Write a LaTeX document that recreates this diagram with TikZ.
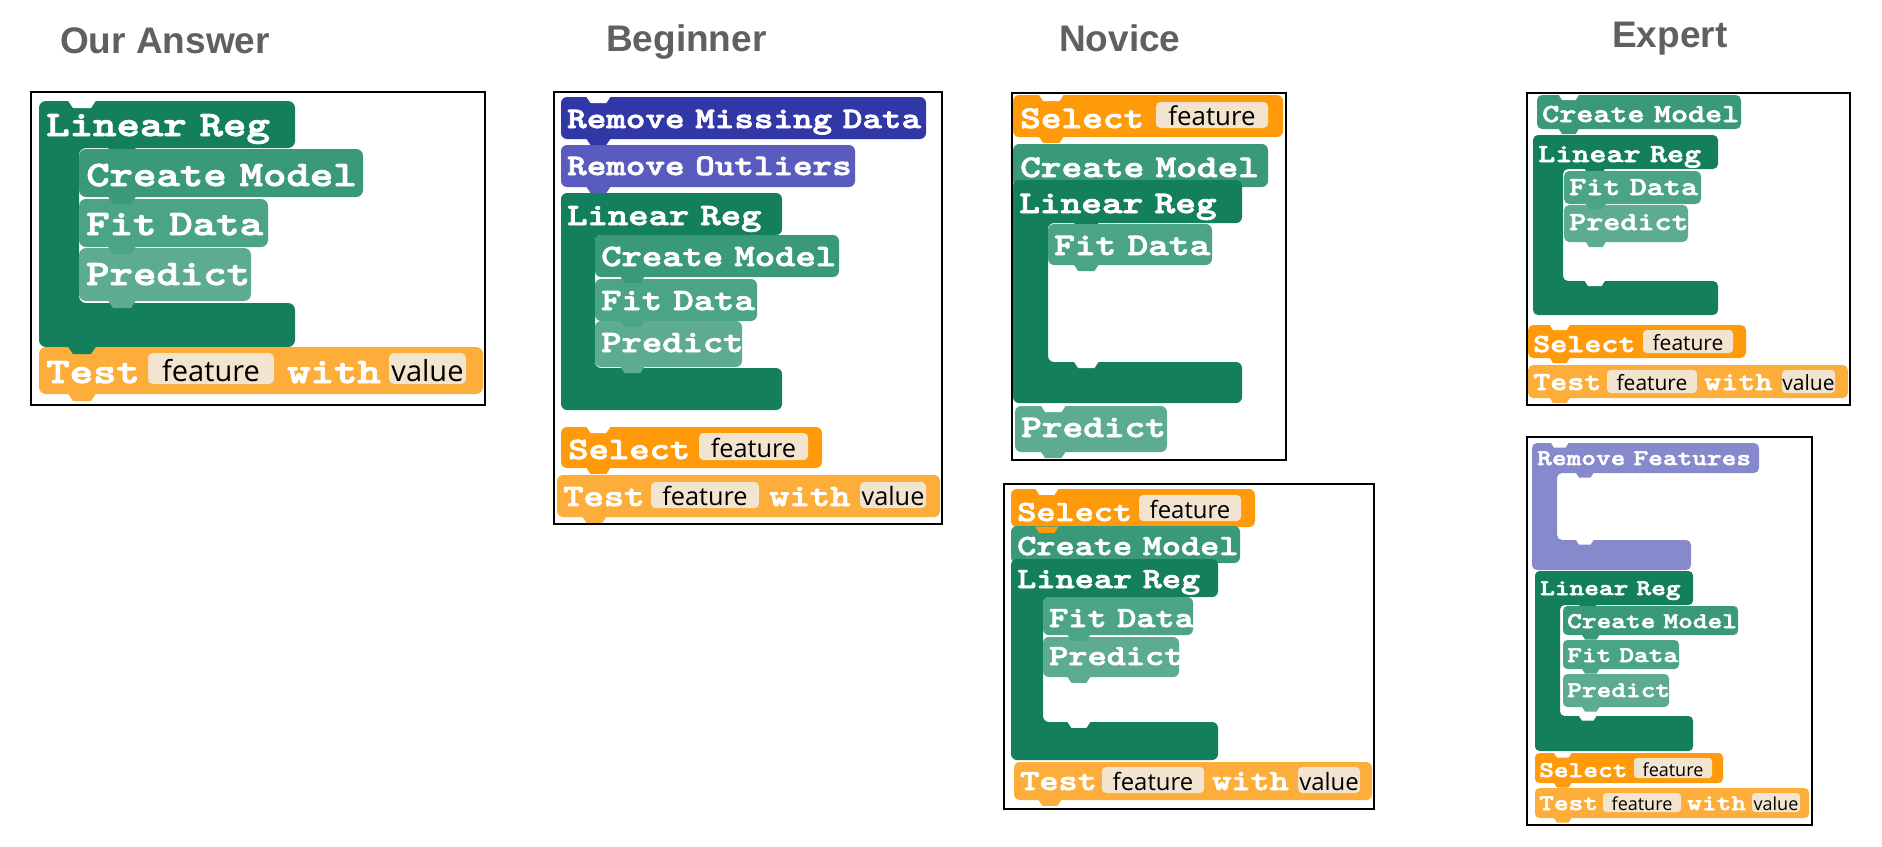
\documentclass[tikz,border=0pt]{standalone}
\usepackage{fontspec}
\newfontfamily\blkfont{lmmonolt10-bold.otf}[FakeStretch=1.25,FakeBold=2.5]
\newfontfamily\slotfont{Open Sans}
\newfontfamily\titlefont{Liberation Sans}
\definecolor{clr}{RGB}{19,127,93}
\definecolor{ccm}{RGB}{58,153,121}
\definecolor{cfd}{RGB}{75,164,135}
\definecolor{cpr}{RGB}{93,172,146}
\definecolor{ctst}{RGB}{252,173,58}
\definecolor{csel}{RGB}{255,155,10}
\definecolor{cslot}{RGB}{243,228,208}
\definecolor{crmd}{RGB}{50,55,168}
\definecolor{cro}{RGB}{89,92,190}
\definecolor{crf}{RGB}{135,137,205}
\definecolor{ctitle}{RGB}{96,96,96}
\tikzset{
  btext/.style={font=\blkfont\fontsize{#1}{#1}\selectfont, text=white, inner sep=0pt, anchor=base west},
  stext/.style={font=\slotfont\fontsize{#1}{#1}\selectfont, text=black, inner sep=0pt, anchor=base},
  ttext/.style={font=\titlefont\bfseries\fontsize{37}{37}\selectfont, text=ctitle, inner sep=0pt, anchor=base west},
  frame/.style={draw=black, line width=2pt},
}
\newcommand\wg{\hspace{0.36em}}
% plain block: x1 y1 x2 y2 color u
\newcommand\blk[6]{\fill[#5, rounded corners={7*#6}] (#1,#2) rectangle (#3,#4);}
% C block: style x1 y1 xh yh xi yb xb y2
\newcommand\cblk[9]{\fill[#1] ({#2+20},#3) -- (#4,#3) -- (#4,#5) -- (#6,#5) -- (#6,#7) -- (#8,#7) -- (#8,#9) -- (#2,#9) -- (#2,#3) -- cycle;}
% tab / notch: x y u color
\newcommand\tabsh[4]{\fill[#4] ({#1+29*#3},{#2-0.5}) -- ({#1+34*#3},{#2+7*#3}) -- ({#1+52*#3},{#2+7*#3}) -- ({#1+57*#3},{#2-0.5}) -- cycle;}
% slot: x1 y1 x2 y2 text fontsize u
\newcommand\slotbox[7]{\fill[cslot, rounded corners={5*#7}] (#1,#2) rectangle (#3,#4); \node[stext=#6] at ({(#1+#3)/2},{#4-3*#7}) {#5};}
\begin{document}
\begin{tikzpicture}[x=1pt,y=-1pt]
\useasboundingbox (0,0) rectangle (1882,846);
\fill[white] (0,0) rectangle (1882,846);

% ---------- titles ----------
\node[ttext] (t1) at (60,53) {Our Answer};
\node[ttext] (t2) at (606,51) {Beginner};
\node[ttext] (t3) at (1059,51) {Novice};
\node[ttext] (t4) at (1612,47) {Expert};

% ---------- panel 1: Our Answer ----------
\cblk{clr,rounded corners=7}{39}{101}{295}{148}{79}{303}{295}{347}
\tabsh{79}{148}{1}{clr}
\blk{79}{149}{363}{197}{ccm}{1}
\blk{79}{199}{268}{247}{cfd}{1}
\blk{79}{248}{251}{301}{cpr}{1}
\blk{39}{347}{483}{394}{ctst}{1}
\tabsh{39}{101}{1}{white}
\tabsh{79}{197}{1}{ccm}
\tabsh{79}{247}{1}{cfd}
\tabsh{79}{301}{1}{cpr}
\tabsh{39}{347}{1}{clr}
\tabsh{39}{394}{1}{ctst}
\node[btext=35.7] (a1) at (46,136) {Linear\wg Reg};
\node[btext=35.7] (a2) at (86,186) {Create\wg Model};
\node[btext=35.7] (a3) at (86,235) {Fit\wg Data};
\node[btext=35.7] (a4) at (86,285) {Predict};
\node[btext=35.7] (a5) at (46,383) {Test};
\slotbox{148}{353}{274}{384}{feature}{29}{1}
\node[btext=35.7] (a6) at (287,383) {with};
\slotbox{389}{353}{466}{384}{value}{29}{1}
\draw[frame] (31,92) rectangle (485,405);

% ---------- panel 2: Beginner ----------
\blk{561}{97}{926}{139}{crmd}{.87}
\blk{561}{145}{855}{187}{cro}{.87}
\cblk{clr,rounded corners=6}{561}{193}{782}{235}{595}{368}{782}{410}
\tabsh{595}{235}{.87}{clr}
\blk{595}{235}{839}{277}{ccm}{.87}
\blk{595}{279}{757}{321}{cfd}{.87}
\blk{595}{321}{742}{367}{cpr}{.87}
\blk{561}{427}{822}{468}{csel}{.87}
\blk{557}{475}{940}{517}{ctst}{.87}
\tabsh{561}{97}{.87}{white}
\tabsh{561}{427}{.87}{white}
\tabsh{561}{139}{.87}{crmd}
\tabsh{561}{187}{.87}{cro}
\tabsh{595}{277}{.87}{ccm}
\tabsh{595}{321}{.87}{cfd}
\tabsh{595}{367}{.87}{cpr}
\tabsh{561}{468}{.87}{csel}
\tabsh{557}{517}{.87}{ctst}
\node[btext=29.8] (b1) at (567,128) {Remove\wg Missing\wg Data};
\node[btext=29.8] (b2) at (567,175) {Remove\wg Outliers};
\node[btext=31] (b3) at (567,225) {Linear\wg Reg};
\node[btext=31] (b4) at (601,266) {Create\wg Model};
\node[btext=31] (b5) at (601,310) {Fit\wg Data};
\node[btext=31] (b6) at (601,352) {Predict};
\node[btext=31] (b7) at (568,459) {Select};
\slotbox{699}{433}{808}{460}{feature}{25.3}{.87}
\node[btext=31] (b8) at (563,506) {Test};
\slotbox{651}{482}{759}{508}{feature}{25.3}{.87}
\node[btext=31] (b9) at (769,506) {with};
\slotbox{860}{482}{926}{508}{value}{25.3}{.87}
\draw[frame] (554,92) rectangle (942,524);

% ---------- panel 3: Novice (top) ----------
\blk{1013}{95}{1283}{137}{csel}{.89}
\blk{1013}{144}{1268}{187}{ccm}{.89}
\cblk{clr,rounded corners=6}{1013}{180}{1242}{223}{1048}{362}{1242}{403}
\tabsh{1048}{223}{.89}{clr}
\blk{1048}{224}{1212}{265}{cfd}{.89}
\blk{1015}{406}{1167}{452}{cpr}{.89}
\tabsh{1013}{95}{.89}{white}
\tabsh{1048}{362}{.89}{white}
\tabsh{1015}{406}{.89}{white}
\tabsh{1013}{137}{.89}{csel}
\tabsh{1048}{265}{.89}{cfd}
\tabsh{1015}{452}{.89}{cpr}
\node[btext=31.5] (c1) at (1020,128) {Select};
\slotbox{1156}{102}{1268}{128}{feature}{25.9}{.89}
\node[btext=31.5] (c2) at (1020,177) {Create\wg Model};
\node[btext=31.5] (c3) at (1019,213) {Linear\wg Reg};
\node[btext=31.5] (c4) at (1054,255) {Fit\wg Data};
\node[btext=31.5] (c5) at (1021,437) {Predict};
\draw[frame] (1012,93) rectangle (1286,460);

% ---------- panel 4: Novice (bottom) ----------
\blk{1011}{489}{1255}{527}{csel}{.835}
\blk{1011}{526}{1240}{563}{ccm}{.835}
\cblk{clr,rounded corners=6}{1011}{559}{1218}{597}{1043}{722}{1218}{760}
\tabsh{1043}{597}{.835}{clr}
\blk{1043}{597}{1193}{635}{cfd}{.835}
\blk{1043}{637}{1179}{677}{cpr}{.835}
\blk{1014}{762}{1372}{800}{ctst}{.835}
\tabsh{1011}{489}{.835}{white}
\tabsh{1043}{722}{.835}{white}
\tabsh{1011}{527}{.835}{csel}
\tabsh{1043}{635}{.835}{cfd}
\tabsh{1043}{677}{.835}{cpr}
\tabsh{1014}{800}{.835}{ctst}
\node[btext=29.2] (d1) at (1017,521) {Select};
\slotbox{1139}{495}{1241}{521}{feature}{23.9}{.835}
\node[btext=29.2] (d2) at (1017,555) {Create\wg Model};
\node[btext=29.2] (d3) at (1017,588) {Linear\wg Reg};
\node[btext=29.2] (d4) at (1049,627) {Fit\wg Data};
\node[btext=29.2] (d5) at (1049,665) {Predict};
\node[btext=29.2] (d6) at (1020,790) {Test};
\slotbox{1102}{767}{1204}{793}{feature}{23.9}{.835}
\node[btext=29.2] (d7) at (1212,790) {with};
\slotbox{1298}{767}{1360}{793}{value}{23.9}{.835}
\draw[frame] (1004,484) rectangle (1374,809);

% ---------- panel 5: Expert (top) ----------
\blk{1537}{95}{1741}{129}{ccm}{.74}
\cblk{clr,rounded corners=5}{1533}{135}{1718}{169}{1563}{281}{1718}{315}
\tabsh{1563}{169}{.74}{clr}
\blk{1564}{171}{1701}{204}{cfd}{.74}
\blk{1564}{205}{1688}{242}{cpr}{.74}
\blk{1528}{325}{1746}{358}{csel}{.74}
\blk{1528}{365}{1848}{398}{ctst}{.74}
\tabsh{1537}{95}{.74}{white}
\tabsh{1563}{281}{.74}{white}
\tabsh{1528}{325}{.74}{white}
\tabsh{1537}{129}{.74}{ccm}
\tabsh{1564}{204}{.74}{cfd}
\tabsh{1564}{242}{.74}{cpr}
\tabsh{1528}{358}{.74}{csel}
\tabsh{1528}{398}{.74}{ctst}
\node[btext=26] (e1) at (1542,122) {Create\wg Model};
\node[btext=26] (e2) at (1538,162) {Linear\wg Reg};
\node[btext=26] (e3) at (1569,195) {Fit\wg Data};
\node[btext=26] (e4) at (1569,230) {Predict};
\node[btext=26] (e5) at (1533,352) {Select};
\slotbox{1643}{330}{1733}{353}{feature}{21}{.74}
\node[btext=26] (e6) at (1533,390) {Test};
\slotbox{1607}{370}{1697}{393}{feature}{21}{.74}
\node[btext=26] (e7) at (1704,390) {with};
\slotbox{1782}{370}{1835}{393}{value}{21}{.74}
\draw[frame] (1527,93) rectangle (1850,405);

% ---------- panel 6: Expert (bottom) ----------
\cblk{crf,rounded corners=5}{1532}{443}{1759}{473}{1557}{540}{1691}{570}
\tabsh{1557}{473}{.645}{crf}
\tabsh{1557}{540}{.645}{white}
\tabsh{1532}{443}{.645}{white}
\cblk{clr,rounded corners=4.5}{1535}{571}{1693}{605}{1560}{716}{1693}{751}
\tabsh{1560}{605}{.645}{clr}
\blk{1563}{606}{1738}{635}{ccm}{.645}
\blk{1563}{640}{1679}{669}{cfd}{.645}
\blk{1563}{674}{1669}{707}{cpr}{.645}
\blk{1535}{753}{1723}{783}{csel}{.645}
\blk{1535}{788}{1809}{818}{ctst}{.645}
\tabsh{1560}{716}{.645}{white}
\tabsh{1535}{753}{.645}{white}
\tabsh{1563}{635}{.645}{ccm}
\tabsh{1563}{669}{.645}{cfd}
\tabsh{1563}{707}{.645}{cpr}
\tabsh{1535}{783}{.645}{csel}
\tabsh{1535}{818}{.645}{ctst}
\node[btext=22.4] (f1) at (1537,465) {Remove\wg Features};
\node[btext=22.4] (f2) at (1540,595) {Linear\wg Reg};
\node[btext=22.4] (f3) at (1567,628) {Create\wg Model};
\node[btext=22.4] (f4) at (1567,662) {Fit\wg Data};
\node[btext=22.4] (f5) at (1567,697) {Predict};
\node[btext=22.4] (f6) at (1539,777) {Select};
\slotbox{1634}{758}{1712}{778}{feature}{18}{.645}
\node[btext=22.4] (f7) at (1539,810) {Test};
\slotbox{1603}{793}{1681}{812}{feature}{18}{.645}
\node[btext=22.4] (f8) at (1687,810) {with};
\slotbox{1752}{793}{1800}{812}{value}{18}{.645}
\draw[frame] (1527,437) rectangle (1812,825);
\end{tikzpicture}
\end{document}
